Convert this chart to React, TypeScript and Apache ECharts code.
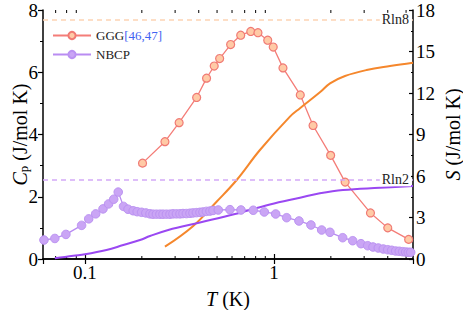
import React, { useEffect, useRef } from "react";
import * as echarts from "echarts";

// GGG heat capacity (T in K, Cp in J/mol K)
const gggT = [0.2017, 0.265, 0.315, 0.39, 0.44, 0.483, 0.516, 0.59, 0.667, 0.754, 0.823, 0.927, 0.991, 1.116, 1.378, 1.61, 1.995, 2.38, 3.24, 4.0, 5.16];
const gggCp = [3.08, 3.77, 4.38, 5.19, 5.81, 6.2, 6.44, 6.89, 7.19, 7.31, 7.27, 7.03, 6.81, 6.14, 5.27, 4.29, 3.33, 2.47, 1.48, 1.0, 0.63];

// NBCP heat capacity
const nbcpT = [0.0607, 0.0693, 0.0793, 0.096, 0.1047, 0.114, 0.1246, 0.1334, 0.142, 0.15, 0.16, 0.169, 0.18, 0.189, 0.1995, 0.21,
  0.2208, 0.229, 0.2389, 0.2492, 0.2587, 0.2699, 0.2817, 0.2921, 0.3049, 0.3182, 0.33, 0.3443, 0.3594, 0.3727, 0.389, 0.406, 0.421, 0.4394, 0.4585, 0.4757,
  0.5074, 0.585, 0.669, 0.777, 0.889, 1.021, 1.167, 1.356, 1.569, 1.788, 1.978, 2.309, 2.609, 2.886, 3.131, 3.341, 3.564, 3.787, 3.996, 4.196, 4.405, 4.603, 4.797, 4.976, 5.136, 5.288];
const nbcpCp = [0.61, 0.66, 0.79, 1.08, 1.29, 1.45, 1.61, 1.77, 1.92, 2.15, 1.69, 1.6, 1.55, 1.52, 1.5, 1.48,
  1.45, 1.44, 1.44, 1.44, 1.44, 1.44, 1.44, 1.45, 1.45, 1.45, 1.46, 1.46, 1.47, 1.48, 1.49, 1.5, 1.51, 1.53, 1.54, 1.56,
  1.575, 1.585, 1.575, 1.566, 1.511, 1.447, 1.328, 1.222, 1.093, 0.932, 0.858, 0.685, 0.588, 0.492, 0.428, 0.386, 0.354, 0.322, 0.299, 0.28, 0.257, 0.248, 0.235, 0.225, 0.215, 0.215];

// Entropy S (J/mol K)
const sGggT = [0.265, 0.374, 0.497, 0.635, 0.843, 1.215, 1.373, 1.75, 1.98, 2.376, 3.09, 4.11, 5.44];
const sGgg = [0.89, 2.39, 4.14, 5.71, 7.88, 10.29, 10.9, 12.05, 12.7, 13.23, 13.66, 13.95, 14.19];
const sNbcpT = [0.0693, 0.0868, 0.1, 0.13, 0.1595, 0.1955, 0.2208, 0.276, 0.406, 0.622, 0.952, 1.373, 1.75, 2.318, 3.64, 5.44];
const sNbcp = [0.05, 0.24, 0.34, 0.65, 1.01, 1.37, 1.66, 2.1, 2.64, 3.25, 3.94, 4.43, 4.75, 4.99, 5.15, 5.28];

const RLN8 = 17.29;
const RLN2 = 5.76;

const xMin = 0.06;
const xMax = 5.44;
const minorXTicks = [0.07, 0.08, 0.09, 0.2, 0.3, 0.4, 0.5, 0.6, 0.7, 0.8, 0.9, 2, 3, 4, 5];

const FONT = "'Liberation Serif', 'Times New Roman', serif";

const zip = (a: number[], b: number[]) => a.map((v, i) => [v, b[i]]);

export default function App() {
  const ref = useRef<HTMLDivElement>(null);
  useEffect(() => {
    if (!ref.current) return;
    const chart = echarts.init(ref.current, undefined, { renderer: "svg" });
    const baseLabel = { fontFamily: FONT, fontSize: 19, color: "#000" };
    const logAxisCommon = {
      type: "log" as const,
      logBase: 10,
      min: xMin,
      max: xMax,
      splitLine: { show: false },
      axisLine: { show: true, lineStyle: { color: "#000", width: 1.5 } },
      axisTick: { inside: true, length: 5, lineStyle: { color: "#000", width: 1.2 } },
    };
    chart.setOption({
      animation: false,
      backgroundColor: "#fff",
      textStyle: { fontFamily: FONT },
      grid: { left: 43, right: 50, top: 10, bottom: 51, containLabel: false, outerBoundsMode: "none" },
      legend: {
        orient: "vertical",
        left: 47,
        top: 24,
        itemWidth: 38,
        itemHeight: 9,
        itemGap: 6,
        data: ["GGG", "NBCP"],
        formatter: (n: string) => (n === "GGG" ? "{a|GGG}{b|[46,47]}" : "{a|NBCP}"),
        textStyle: {
          fontFamily: FONT,
          fontSize: 13,
          rich: {
            a: { fontFamily: FONT, fontSize: 13, color: "#222", height: 15 },
            b: { fontFamily: FONT, fontSize: 13, color: "#3f63f2", height: 15 },
          },
        },
      },
      xAxis: [
        {
          ...logAxisCommon,
          position: "bottom",
          axisLabel: {
            ...baseLabel,
            margin: 4,
            showMinLabel: false,
            showMaxLabel: false,
            formatter: (v: number) => String(+v.toPrecision(3)),
          },
          name: "{i|T} (K)",
          nameLocation: "middle",
          nameMoveOverlap: false,
          nameGap: 30,
          nameTextStyle: {
            fontFamily: FONT,
            fontSize: 20,
            color: "#000",
            rich: { i: { fontFamily: FONT, fontSize: 20, fontStyle: "italic", color: "#000" } },
          },
        },
        {
          ...logAxisCommon,
          position: "top",
          axisLabel: { show: false },
        },
      ],
      yAxis: [
        {
          type: "value",
          min: 0,
          max: 8,
          interval: 2,
          position: "left",
          splitLine: { show: false },
          axisLine: { show: true, lineStyle: { color: "#000", width: 1.5 } },
          axisTick: { inside: false, length: 5, lineStyle: { color: "#000", width: 1.2 } },
          minorTick: { show: true, splitNumber: 2, length: 3, lineStyle: { color: "#000", width: 1 } },
          axisLabel: { ...baseLabel, margin: 5 },
          name: "{i|C}{s|p} (J/mol K)",
          nameLocation: "middle",
          nameMoveOverlap: false,
          nameGap: 13,
          nameRotate: 90,
          nameTextStyle: {
            fontFamily: FONT,
            fontSize: 20,
            color: "#000",
            rich: {
              i: { fontFamily: FONT, fontSize: 20, fontStyle: "italic", color: "#000" },
              s: { fontFamily: FONT, fontSize: 13, color: "#000", verticalAlign: "bottom", padding: [8, 0, 0, 0] },
            },
          },
        },
        {
          type: "value",
          min: 0,
          max: 18,
          interval: 3,
          position: "right",
          splitLine: { show: false },
          axisLine: { show: true, lineStyle: { color: "#000", width: 1.5 } },
          axisTick: { inside: true, length: 4, lineStyle: { color: "#000", width: 1.2 } },
          minorTick: { show: true, splitNumber: 2, length: 2, lineStyle: { color: "#000", width: 1 } },
          axisLabel: { ...baseLabel, margin: 3 },
          name: "{i|S} (J/mol K)",
          nameLocation: "middle",
          nameMoveOverlap: false,
          nameGap: 30,
          nameRotate: 90,
          nameTextStyle: {
            fontFamily: FONT,
            fontSize: 20,
            color: "#000",
            rich: { i: { fontFamily: FONT, fontSize: 20, fontStyle: "italic", color: "#000" } },
          },
        },
      ],
      series: [
        {
          type: "custom",
          name: "minorTicks",
          xAxisIndex: 0,
          yAxisIndex: 0,
          silent: true,
          clip: false,
          data: minorXTicks.map((t) => [t, 0]),
          renderItem: (params: any, api: any) => {
            const bottom = api.coord([api.value(0), 0]);
            const top = api.coord([api.value(0), 8]);
            const style = { stroke: "#000", lineWidth: 1 };
            return {
              type: "group",
              children: [
                { type: "line", shape: { x1: bottom[0], y1: bottom[1], x2: bottom[0], y2: bottom[1] - 3 }, style },
                { type: "line", shape: { x1: top[0], y1: top[1], x2: top[0], y2: top[1] + 3 }, style },
              ],
            };
          },
        },
        {
          name: "GGG",
          type: "line",
          yAxisIndex: 0,
          data: zip(gggT, gggCp),
          symbol: "circle",
          symbolSize: 8,
          lineStyle: { color: "#f47d78", width: 1.3 },
          itemStyle: { color: "#ffcaa6", borderColor: "#f07a74", borderWidth: 1.2 },
        },
        {
          name: "NBCP",
          type: "line",
          yAxisIndex: 0,
          data: zip(nbcpT, nbcpCp),
          symbol: "circle",
          symbolSize: 8.5,
          lineStyle: { color: "#b98cf2", width: 1.3 },
          itemStyle: { color: "#caa5f5", borderColor: "#bb92f2", borderWidth: 1 },
        },
        {
          name: "S_GGG",
          type: "line",
          yAxisIndex: 1,
          data: zip(sGggT, sGgg),
          symbol: "none",
          smooth: 0.4,
          lineStyle: { color: "#f5872c", width: 2 },
          markLine: {
            silent: true,
            symbol: "none",
            lineStyle: { color: "#fdd4b4", type: [5, 4], width: 1.5 },
            label: {
              position: "insideEnd",
              formatter: "Rln8",
              fontFamily: FONT,
              fontSize: 14,
              color: "#222",
              backgroundColor: "#fff",
              padding: [0, 2],
              distance: 2,
            },
            data: [{ yAxis: RLN8 }],
          },
        },
        {
          name: "S_NBCP",
          type: "line",
          yAxisIndex: 1,
          data: zip(sNbcpT, sNbcp),
          symbol: "none",
          smooth: 0.4,
          lineStyle: { color: "#9a48f2", width: 2 },
          markLine: {
            silent: true,
            symbol: "none",
            lineStyle: { color: "#d4a9f7", type: [5, 4], width: 1.5 },
            label: {
              position: "insideEnd",
              formatter: "Rln2",
              fontFamily: FONT,
              fontSize: 14,
              color: "#222",
              backgroundColor: "#fff",
              padding: [0, 2],
              distance: 2,
            },
            data: [{ yAxis: RLN2 }],
          },
        },
      ],
    });
    return () => chart.dispose();
  }, []);
  return (
    <div
      ref={ref}
      style={{ position: "fixed", left: 0, top: 0, width: 463, height: 310, background: "#fff" }}
    />
  );
}
